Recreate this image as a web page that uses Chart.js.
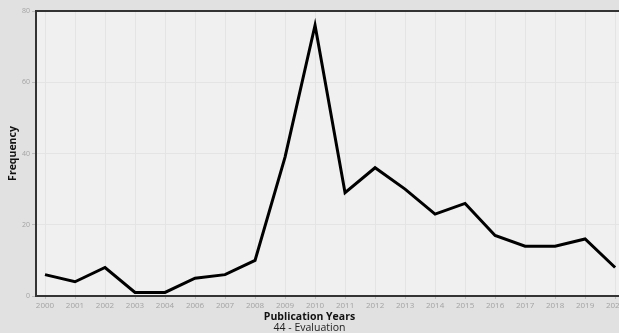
<!DOCTYPE html>
<html>
<head>
<meta charset="utf-8">
<script src="https://cdn.jsdelivr.net/npm/chart.js@4.4.1/dist/chart.umd.min.js"></script>
<style>
  html, body { margin: 0; padding: 0; overflow: hidden; background: #e1e1e1; }
</style>
</head>
<body>
<canvas id="myChart" width="619" height="333"></canvas>
<script>
"use strict";

// publication years (2005 has no entry in the source)
const years = ["2000", "2001", "2002", "2003", "2004", "2006", "2007", "2008", "2009", "2010",
  "2011", "2012", "2013", "2014", "2015", "2016", "2017", "2018", "2019", "2020"];
const frequency = [6, 4, 8, 1, 1, 5, 6, 10, 39, 76, 29, 36, 30, 23, 26, 17, 14, 14, 16, 8];
const yTicks = [0, 20, 40, 60, 80];

const tickColor = "#a3a3a3";
const fontFamily = "'Open Sans', 'Noto Sans', sans-serif";

// grey plot area + top frame line
const plotFrame = {
  id: "plotFrame",
  beforeDraw(chart) {
    const { ctx, chartArea } = chart;
    ctx.save();
    ctx.fillStyle = "#f0f0f0";
    ctx.fillRect(chartArea.left, chartArea.top, chartArea.right - chartArea.left, chartArea.bottom - chartArea.top);
    ctx.restore();
  },
  afterDraw(chart) {
    const { ctx, chartArea } = chart;
    ctx.save();
    ctx.strokeStyle = "#333";
    ctx.lineWidth = 2;
    ctx.beginPath();
    ctx.moveTo(chartArea.left - 1, chartArea.top);
    ctx.lineTo(chartArea.right, chartArea.top);
    ctx.stroke();
    ctx.restore();
  },
};

const ctx = document.getElementById("myChart");
const myChart = new Chart(ctx, {
  type: "line",
  data: {
    datasets: [
      {
        label: "Frequency",
        data: frequency.map((v, i) => ({ x: i, y: v })),
        borderColor: "#000",
        borderWidth: 3,
        pointRadius: 0,
        tension: 0,
        fill: false,
      },
    ],
  },
  options: {
    responsive: false,
    animation: false,
    layout: { padding: { top: 11, right: 0, left: 0, bottom: 0 } },
    plugins: {
      legend: { display: false },
      tooltip: { enabled: false },
      // x axis title drawn as subtitle so it centres on the whole picture
      subtitle: {
        display: true,
        position: "bottom",
        text: "Publication Years",
        color: "#111",
        font: { family: fontFamily, size: 10.5, weight: "bold", lineHeight: 1 },
        padding: { top: 0, bottom: 0 },
      },
      title: {
        display: true,
        position: "bottom",
        text: "44 - Evaluation",
        color: "#222",
        font: { family: fontFamily, size: 10.5, weight: "normal", lineHeight: 1 },
        padding: { top: 0, bottom: 0 },
      },
    },
    scales: {
      x: {
        type: "linear",
        min: -0.3,
        max: 19.13,
        afterFit(scale) {
          scale.height = 16;
          scale.paddingLeft = 0;
          scale.paddingRight = 0;
        },
        ticks: {
          stepSize: 1,
          includeBounds: false,
          autoSkip: false,
          maxRotation: 0,
          padding: 2,
          color: tickColor,
          font: { family: fontFamily, size: 8 },
          callback: (value) => (Number.isInteger(value) && years[value]) ? years[value] : "",
        },
        grid: { color: "#e4e4e4", lineWidth: 1, tickLength: 3, tickColor: "#bbb" },
        border: { color: "#333", width: 2 },
      },
      y: {
        min: 0,
        max: 80,
        afterFit(scale) { scale.width = 36; },
        afterBuildTicks(scale) { scale.ticks = yTicks.map((v) => ({ value: v })); },
        ticks: {
          padding: 2,
          color: tickColor,
          font: { family: fontFamily, size: 7 },
        },
        grid: { color: "#e4e4e4", lineWidth: 1, tickLength: 4, tickColor: "#bbb" },
        border: { color: "#333", width: 2 },
        title: {
          display: true,
          text: "Frequency",
          color: "#111",
          font: { family: fontFamily, size: 10.5, weight: "bold", lineHeight: 1 },
          padding: { top: 8, bottom: 0 },
        },
      },
    },
  },
  plugins: [plotFrame],
});
</script>
</body>
</html>
